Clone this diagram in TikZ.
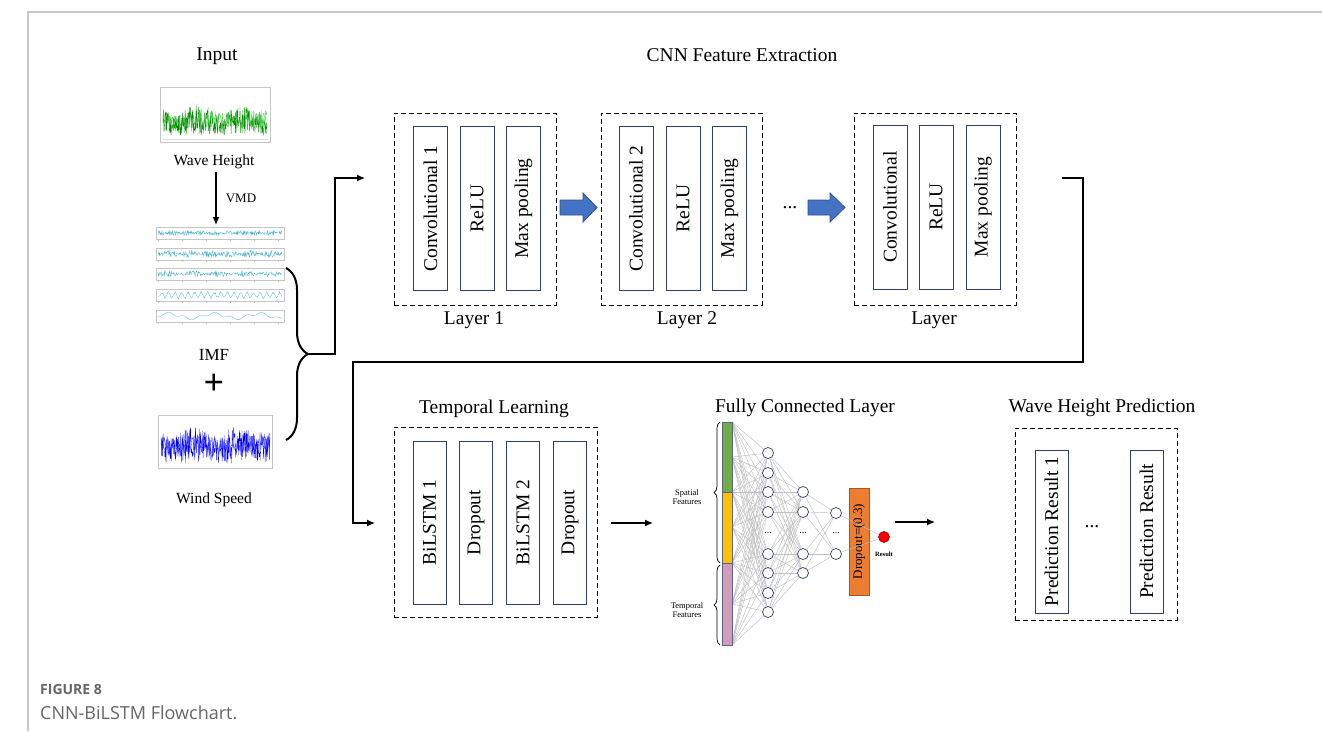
\documentclass[tikz,border=0pt]{standalone}
\usepackage{fontspec}
\setmainfont{Liberation Serif}
\newfontfamily\capfont{Open Sans}
\usetikzlibrary{arrows.meta,decorations.pathreplacing,calc}
\newcommand{\fsz}[1]{\fontsize{#1}{#1}\selectfont}
\definecolor{navy}{HTML}{2F3F6B}
\definecolor{arrblue}{HTML}{4472C4}
\definecolor{fgreen}{HTML}{70AD47}
\definecolor{fyellow}{HTML}{FFC000}
\definecolor{fpink}{HTML}{D29DBA}
\definecolor{forange}{HTML}{ED7D31}
\definecolor{imfcyan}{HTML}{4FB4D2}
\definecolor{capgray}{HTML}{666666}
\definecolor{framegray}{HTML}{C8C8C8}
\pgfdeclarelayer{bg}
\pgfsetlayers{bg,main}
\tikzset{
  dbox/.style={draw, line width=0.9pt, dash pattern=on 5pt off 3pt, inner sep=0pt},
  ibox/.style={draw=navy, line width=0.85pt, fill=white, inner sep=0pt, minimum width=34pt, minimum height=164pt, font=\fsz{19.5}},
  ttl/.style={font=\fsz{19.5}, inner sep=0pt},
  lbl/.style={font=\fsz{15.5}, inner sep=0pt},
  conn/.style={line width=1.3pt, -{Latex[length=8pt,width=7pt]}},
  blockarr/.style={fill=arrblue, draw=arrblue!70!black, line width=0.8pt},
  neuron/.style={circle, draw=navy, fill=white, line width=0.7pt, minimum size=11pt, inner sep=0pt},
  wire/.style={gray!50, line width=0.45pt},
  chartframe/.style={gray!45, line width=0.3pt},
  imf/.style={imfcyan, line width=0.3pt},
  dotsnode/.style={font=\fsz{19.5}, inner sep=0pt},
}
\begin{document}
\begin{tikzpicture}[x=1pt,y=-1pt]
\useasboundingbox (0,0) rectangle (1322,731);
% page frame
\draw[framegray, line width=1.2pt] (28,731) -- (28,12) -- (1322,12);

% ---------------- Input column ----------------
\node[ttl] (inp) at (217,56) {Input};
\pgfmathsetseed{7}
\draw[chartframe] (160,87) rectangle (270,142);
\draw[gray!30, line width=0.3pt] (163,139) -- (268,139);
\draw[green!55!black, line width=0.3pt] plot[domain=163:267, samples=340] (\x,{136-3*rnd-rnd*(16+14*abs(sin(\x*4+20)))});
\draw[green!70!black!75, line width=0.3pt] plot[domain=163:267, samples=220] (\x,{130-6*rnd-rnd*(8+10*abs(sin(\x*3)))});
\node[lbl] (wh) at (214,162) {Wave Height};
\coordinate (vmdS) at (216,172);
\coordinate (vmdE) at (216,225);
\draw[conn] (vmdS) -- (vmdE);
\node[font=\fsz{13}, inner sep=0pt] (vmd) at (241,198) {VMD};

% IMF panels
\foreach \t in {227,248,268,289,310}{
  \draw[chartframe] (156,\t) rectangle (284,{\t+12});
  \foreach \xx in {158,182,206,230,254,278}{
    \draw[gray!50, line width=0.3pt] (\xx,{\t+12}) -- (\xx,{\t+14});
  }
}
\draw[imf] plot[domain=158:282, samples=300] (\x,{233+5*(rnd-0.5)*(0.4+0.6*abs(sin(\x*13)))});
\draw[imf] plot[domain=158:282, samples=300] (\x,{254+7*(rnd-0.5)*(0.4+0.6*abs(sin(\x*9)))});
\draw[imf] plot[domain=158:282, samples=260] (\x,{274+6*(rnd-0.5)*(0.3+0.7*abs(sin(\x*7)))});
\draw[imf] plot[domain=158:282, samples=200] (\x,{295+4*sin(\x*55)*(0.3+0.7*rnd)});
\draw[imf] plot[domain=158:282, samples=160] (\x,{316+2.5*sin(\x*8)+1.3*sin(\x*23)});
\node[font=\fsz{17}, inner sep=0pt] (imf) at (214,355) {IMF};
\node[font=\bfseries\fsz{36}, inner sep=0pt] (plus) at (214,384) {+};

% wind speed chart
\draw[chartframe] (158,415) rectangle (272,468);
\draw[blue, line width=0.3pt] plot[domain=161:270, samples=340] (\x,{464-3*rnd-rnd*(22+14*abs(sin(\x*4+40)))});
\draw[blue!75, line width=0.3pt] plot[domain=161:270, samples=220] (\x,{456-6*rnd-rnd*(10+10*abs(sin(\x*3+10)))});
\node[lbl] (ws) at (214,500) {Wind Speed};

% big brace
\draw[decorate, decoration={brace, amplitude=22pt}, line width=2pt] (286,268) -- (286,440);
\coordinate (btip) at (309,354);
\coordinate (c1end) at (365,178);
\draw[conn] (btip) -- (335,354) |- (c1end);

% ---------------- CNN Feature Extraction ----------------
\node[ttl] (cnnt) at (742,55) {CNN Feature Extraction};

\node[dbox, minimum width=162pt, minimum height=192pt] (L1) at (475,209) {};
\node[ibox] (cv1) at (430.5,208.5) {\rotatebox{90}{Convolutional 1}};
\node[ibox] (re1) at (477,208.5) {\rotatebox{90}{ReLU}};
\node[ibox] (mp1) at (523.5,208.5) {\rotatebox{90}{Max pooling}};
\node[ttl] (l1t) at (474,320) {Layer 1};

\draw[blockarr] (560,200) -- (583,200) -- (583,193) -- (597,207.5) -- (583,222) -- (583,215) -- (560,215) -- cycle;

\node[dbox, minimum width=161pt, minimum height=192pt] (L2) at (681.5,209) {};
\node[ibox] (cv2) at (636,208.5) {\rotatebox{90}{Convolutional 2}};
\node[ibox] (re2) at (683,208.5) {\rotatebox{90}{ReLU}};
\node[ibox] (mp2) at (729.5,208.5) {\rotatebox{90}{Max pooling}};
\node[ttl] (l2t) at (687,320) {Layer 2};

\node[dotsnode] (d1) at (790,208) {...};
\draw[blockarr] (808,200) -- (830,200) -- (830,193) -- (845,207.5) -- (830,222) -- (830,215) -- (808,215) -- cycle;

\node[dbox, minimum width=162pt, minimum height=192pt] (L3) at (935,209) {};
\node[ibox] (cv3) at (890,207) {\rotatebox{90}{Convolutional}};
\node[ibox] (re3) at (936,207) {\rotatebox{90}{ReLU}};
\node[ibox] (mp3) at (983,207) {\rotatebox{90}{Max pooling}};
\node[ttl] (l3t) at (934,320) {Layer};

% return connector
\coordinate (c2s) at (1062,178);
\coordinate (c2e) at (375,523);
\draw[conn] (c2s) -- (1083,178) -- (1083,362) -- (353,362) -- (353,523) -- (c2e);

% ---------------- Temporal Learning ----------------
\node[ttl] (tlt) at (494,409) {Temporal Learning};
\node[dbox, minimum width=203pt, minimum height=190pt] (TL) at (495.5,522) {};
\node[ibox, minimum width=33pt, minimum height=163pt] (bl1) at (429.5,522.5) {\rotatebox{90}{BiLSTM 1}};
\node[ibox, minimum width=33pt, minimum height=163pt] (do1) at (476,522.5) {\rotatebox{90}{Dropout}};
\node[ibox, minimum width=33pt, minimum height=163pt] (bl2) at (523,522.5) {\rotatebox{90}{BiLSTM 2}};
\node[ibox, minimum width=33pt, minimum height=163pt] (do2) at (570,522.5) {\rotatebox{90}{Dropout}};

\coordinate (a1s) at (611,523);
\coordinate (a1e) at (653,523);
\draw[conn] (a1s) -- (a1e);

% ---------------- Fully Connected Layer ----------------
\node[ttl] (fct) at (805,408) {Fully Connected Layer};
\fill[fgreen] (722,422) rectangle (732,492);
\fill[fyellow] (722,492) rectangle (732,563);
\fill[fpink] (722,563) rectangle (732,645);
\draw[navy!80, line width=0.7pt] (722,422) rectangle (732,645) (722,492) -- (732,492) (722,563) -- (732,563);
\draw[decorate, decoration={brace, amplitude=6pt}, line width=0.7pt] (720,563) -- (720,422);
\draw[decorate, decoration={brace, amplitude=6pt}, line width=0.7pt] (720,645) -- (720,565);
\node[font=\fsz{8.5}, align=center, inner sep=0pt] (spf) at (687,497) {Spatial\\[1pt]Features};
\node[font=\fsz{8.5}, align=center, inner sep=0pt] (tpf) at (687,610) {Temporal\\[1pt]Features};

\foreach \y [count=\i] in {422,457,492,527,563,604,645}{ \coordinate (f\i) at (732,\y); }
\foreach \y [count=\i] in {453,473,492,512,554,573,593,612}{ \node[neuron] (n\i) at (768,\y) {}; }
\foreach \y [count=\i] in {492,512,554,573}{ \node[neuron] (m\i) at (803,\y) {}; }
\foreach \y [count=\i] in {513,554}{ \node[neuron] (k\i) at (836,\y) {}; }
\node[dotsnode, font=\fsz{10}] at (768,533) {...};
\node[dotsnode, font=\fsz{10}] at (803,533) {...};
\node[dotsnode, font=\fsz{10}] at (836,533) {...};
\node[circle, fill=red, draw=red!60!black, line width=0.6pt, minimum size=11pt, inner sep=0pt] (res) at (884,537) {};
\node[font=\bfseries\fsz{6.5}, inner sep=0pt] (rest) at (884,554) {Result};

\begin{pgfonlayer}{bg}
\node[draw=forange!70!black, line width=0.6pt, fill=forange, minimum width=20pt, minimum height=107pt, inner sep=0pt, font=\fsz{13}] (dp) at (859,541.5) {\rotatebox{90}{Dropout=(0.3)}};
\foreach \i in {1,...,7}{ \foreach \j in {1,...,8}{ \draw[wire] (f\i) -- (n\j); } }
\foreach \i in {1,...,8}{ \foreach \j in {1,...,4}{ \draw[wire] (n\i) -- (m\j); } }
\foreach \i in {1,...,4}{ \foreach \j in {1,2}{ \draw[wire] (m\i) -- (k\j); } }
\foreach \i in {1,2}{ \draw[wire] (k\i) -- (res); }
\end{pgfonlayer}

\coordinate (a2s) at (895,522);
\coordinate (a2e) at (935,522);
\draw[conn] (a2s) -- (a2e);

% ---------------- Wave Height Prediction ----------------
\node[ttl] (whp) at (1102,408) {Wave Height Prediction};
\node[dbox, minimum width=162pt, minimum height=192pt] (PR) at (1096,524) {};
\node[ibox, minimum width=33pt, minimum height=163pt] (pr1) at (1051.5,531.5) {\rotatebox{90}{Prediction Result 1}};
\node[ibox, minimum width=33pt, minimum height=163pt] (pr2) at (1146.5,531.5) {\rotatebox{90}{Prediction Result}};
\node[dotsnode] (d2) at (1092,527) {...};

% ---------------- caption ----------------
\node[anchor=base west, inner sep=0pt, font=\capfont\bfseries\fsz{14}, text=capgray] (fig) at (40,694) {FIGURE 8};
\node[anchor=base west, inner sep=0pt, font=\capfont\fsz{18}, text=capgray] (cap) at (40,719) {CNN-BiLSTM Flowchart.};
\end{tikzpicture}
\end{document}
